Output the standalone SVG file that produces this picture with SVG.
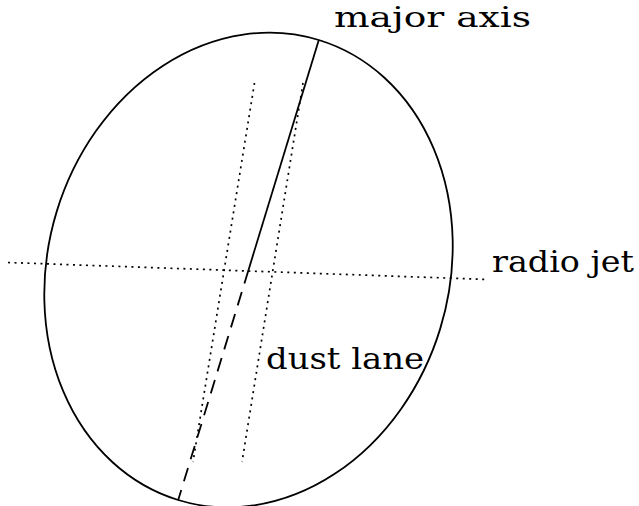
<svg xmlns="http://www.w3.org/2000/svg" width="639" height="506" viewBox="0 0 639 506">
<style>
.solid{fill:none;stroke:#000;stroke-width:1.8}
.dot{fill:none;stroke:#000;stroke-width:1.7;stroke-dasharray:2 4.5}
.dash{fill:none;stroke:#000;stroke-width:1.8;stroke-dasharray:14 9}
.lbl{font-family:"DejaVu Serif","Liberation Serif",serif;font-size:30px;fill:#000}
</style>
<rect width="639" height="506" fill="#fff"/>
<g id="galaxy">
<ellipse class="solid" cx="248.5" cy="270" rx="200.5" ry="240.5" transform="rotate(17 248.5 270)"/>
</g>
<g id="connectors">
<line id="major-axis-solid" class="solid" x1="318.8" y1="40" x2="248.5" y2="270"/>
<line id="major-axis-dashed" class="dash" x1="248.5" y1="270" x2="178.2" y2="500"/>
<line id="dust-lane-left" class="dot" x1="254.5" y1="83" x2="193" y2="462"/>
<line id="dust-lane-right" class="dot" x1="303" y1="83" x2="242" y2="462"/>
<line id="radio-jet" class="dot" x1="8" y1="262.5" x2="488" y2="279.5"/>
</g>
<g id="label-major-axis"><text class="lbl" x="334" y="27" style="font-size:28px" textLength="197" lengthAdjust="spacingAndGlyphs">major axis</text></g>
<g id="label-radio-jet"><text class="lbl" x="492" y="272" textLength="142" lengthAdjust="spacingAndGlyphs">radio jet</text></g>
<g id="label-dust-lane"><text class="lbl" x="266" y="369" textLength="158" lengthAdjust="spacingAndGlyphs">dust lane</text></g>
</svg>
